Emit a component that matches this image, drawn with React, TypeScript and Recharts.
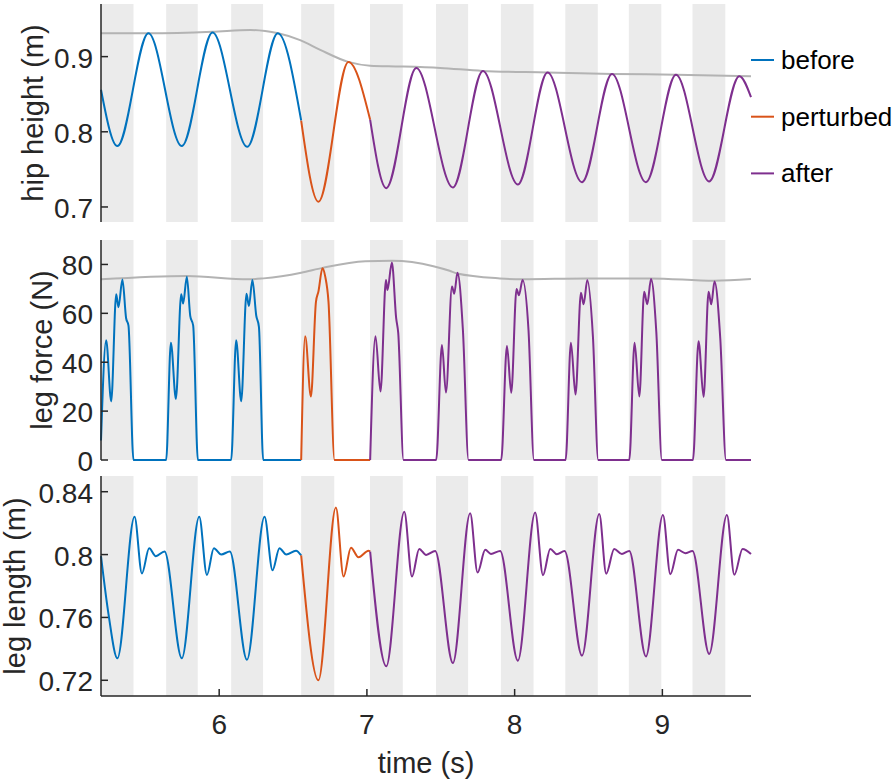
import React from 'react';
import { LineChart, Line, XAxis, YAxis, ReferenceArea } from 'recharts';

const FONT = '"Liberation Sans", Arial, Helvetica, sans-serif';
const INK = '#262626';
const C_BEFORE = '#0072BD';
const C_PERT = '#D95319';
const C_AFTER = '#7E2F8E';
const C_ENV = '#b3b3b3';
const C_BAND = '#ebebeb';

// stance phases (grey bands), seconds
const stanceOn = [5.2, 5.641, 6.081, 6.555, 7.021, 7.468, 7.907, 8.343, 8.773, 9.204];
const stanceOff = [5.42, 5.855, 6.297, 6.779, 7.243, 7.685, 8.128, 8.563, 8.993, 9.426];

const timeTicks = [6, 7, 8, 9];
const hipTicks = [0.7, 0.8, 0.9];
const forceTicks = [0, 20, 40, 60, 80];
const lenTicks = [0.72, 0.76, 0.8, 0.84];

// hip height (m)
const hipBefore: [number, number][] = [
  [5.2, 0.856], [5.311, 0.781], [5.521, 0.931], [5.747, 0.781], [5.955, 0.932],
  [6.19, 0.78], [6.397, 0.931], [6.555, 0.815],
];
const hipPerturbed: [number, number][] = [
  [6.555, 0.815], [6.672, 0.707], [6.875, 0.893], [7.022, 0.816],
];
const hipAfter: [number, number][] = [
  [7.022, 0.816], [7.131, 0.725], [7.334, 0.885], [7.582, 0.726], [7.785, 0.881],
  [8.022, 0.73], [8.223, 0.879], [8.456, 0.733], [8.659, 0.877], [8.889, 0.733],
  [9.092, 0.876], [9.317, 0.734], [9.521, 0.874], [9.6, 0.846],
];
const hipEnvelope: [number, number][] = [
  [5.2, 0.931], [5.519, 0.931], [5.953, 0.933], [6.21, 0.9355], [6.311, 0.934],
  [6.399, 0.931], [6.548, 0.922], [6.684, 0.909], [6.873, 0.893], [7.022, 0.888],
  [7.225, 0.887], [7.496, 0.885], [7.781, 0.881], [8.221, 0.879], [8.662, 0.877],
  [9.095, 0.876], [9.6, 0.874],
];

// leg force (N)
const forceBefore: [number, number][] = [
  [5.2, 8], [5.235, 49], [5.269, 24], [5.303, 67.8], [5.318, 62.5], [5.345, 73.8], [5.37, 58], [5.386, 55], [5.42, 0],
  [5.641, 0], [5.673, 48], [5.707, 25], [5.743, 67.8], [5.756, 64], [5.781, 75], [5.804, 59], [5.824, 55], [5.856, 0],
  [6.081, 0], [6.115, 49], [6.149, 24], [6.185, 68], [6.201, 63], [6.225, 73.6], [6.251, 59], [6.269, 54.5], [6.298, 0],
  [6.555, 0],
];
const forcePerturbed: [number, number][] = [
  [6.555, 0], [6.582, 50.6], [6.621, 26], [6.655, 64.7], [6.672, 69], [6.699, 78.4],
  [6.718, 75], [6.74, 64.7], [6.781, 0], [7.022, 0],
];
const forceAfter: [number, number][] = [
  [7.022, 0], [7.058, 50.6], [7.092, 28], [7.129, 73.6], [7.139, 69.5], [7.169, 80.8], [7.198, 58], [7.212, 52], [7.248, 0],
  [7.469, 0], [7.508, 47], [7.535, 27.6], [7.576, 71], [7.591, 68], [7.613, 76.6], [7.65, 53], [7.688, 0],
  [7.909, 0], [7.948, 46.6], [7.977, 27.5], [8.013, 70], [8.029, 67.4], [8.054, 73.6], [8.094, 53], [8.131, 0],
  [8.345, 0], [8.381, 48], [8.412, 26.8], [8.449, 68.4], [8.467, 63.7], [8.492, 73.6], [8.53, 50.4], [8.566, 0],
  [8.776, 0], [8.812, 48], [8.844, 26], [8.877, 68.8], [8.898, 63.7], [8.923, 74], [8.959, 52.4], [8.997, 0],
  [9.207, 0], [9.245, 48.6], [9.279, 25.8], [9.313, 68.8], [9.331, 63.7], [9.353, 73], [9.392, 49.7], [9.431, 0],
  [9.6, 0],
];
const forceEnvelope: [number, number][] = [
  [5.2, 73.9], [5.78, 75.3], [6.2, 73.9], [6.3, 74.3], [6.555, 76.6], [6.7, 78.6],
  [6.99, 81.3], [7.17, 81.5], [7.45, 79.3], [7.56, 77.4], [7.61, 76.3], [7.9, 74.3],
  [8.05, 73.9], [8.49, 74.3], [8.92, 74.3], [9.35, 73.3], [9.6, 74],
];

// leg length (m)
const lenBefore: [number, number][] = [
  [5.2, 0.799], [5.251, 0.762], [5.311, 0.734], [5.427, 0.824], [5.477, 0.788], [5.526, 0.804], [5.571, 0.799], [5.63, 0.802],
  [5.747, 0.734], [5.865, 0.824], [5.917, 0.787], [5.964, 0.804], [6.014, 0.8], [6.072, 0.802],
  [6.188, 0.733], [6.307, 0.824], [6.361, 0.79], [6.408, 0.804], [6.454, 0.8], [6.52, 0.8025], [6.555, 0.7995],
];
const lenPerturbed: [number, number][] = [
  [6.555, 0.7995], [6.672, 0.72], [6.79, 0.83], [6.842, 0.786], [6.892, 0.8044],
  [6.943, 0.7983], [7.011, 0.8025], [7.022, 0.8019],
];
const lenAfter: [number, number][] = [
  [7.022, 0.8019], [7.131, 0.7289], [7.253, 0.8273], [7.305, 0.786], [7.354, 0.8036], [7.401, 0.7998], [7.462, 0.8023],
  [7.582, 0.731], [7.699, 0.8263], [7.749, 0.7886], [7.801, 0.803], [7.84, 0.8004], [7.902, 0.8023],
  [8.022, 0.7325], [8.139, 0.8267], [8.192, 0.7869], [8.241, 0.8036], [8.286, 0.8002], [8.338, 0.8023],
  [8.456, 0.7357], [8.573, 0.8258], [8.62, 0.7878], [8.674, 0.8036], [8.726, 0.8004], [8.776, 0.8023],
  [8.889, 0.7352], [9.004, 0.8252], [9.054, 0.7875], [9.106, 0.803], [9.155, 0.8009], [9.204, 0.8023],
  [9.317, 0.7368], [9.437, 0.8252], [9.487, 0.7871], [9.543, 0.8036], [9.6, 0.8004],
];

const legendItems = [
  { name: 'before', color: C_BEFORE },
  { name: 'perturbed', color: C_PERT },
  { name: 'after', color: C_AFTER },
];

const rows = (pts: [number, number][]) => pts.map(([t, v]) => ({ t, v }));

const TICK_FS = 28;
const TITLE_FS = 29;

const yTick = (props: any) => {
  const { x, y, payload } = props;
  return (
    <g>
      <line x1={x} x2={x + 7} y1={y} y2={y} stroke={INK} strokeWidth={1.5} />
      <text x={x - 8} y={y} dy={11} textAnchor="end" fontSize={TICK_FS} fontFamily={FONT} fill={INK}>
        {String(payload.value)}
      </text>
    </g>
  );
};

const xTick = (props: any) => {
  const { x, y, payload } = props;
  return (
    <g>
      <line x1={x} x2={x} y1={y} y2={y - 7} stroke={INK} strokeWidth={1.5} />
      <text x={x} y={y + 38} textAnchor="middle" fontSize={TICK_FS} fontFamily={FONT} fill={INK}>
        {String(payload.value)}
      </text>
    </g>
  );
};

const yTitle = (text: string, cx: number) => (props: any) => {
  const vb = props.viewBox || {};
  const cy = (vb.y ?? 0) + (vb.height ?? 0) / 2;
  return (
    <text x={cx} y={cy} transform={`rotate(-90 ${cx} ${cy})`} textAnchor="middle" dominantBaseline="central"
      fontSize={TITLE_FS} fontFamily={FONT} fill={INK}>
      {text}
    </text>
  );
};

const xTitle = (props: any) => {
  const vb = props.viewBox || {};
  const cx = (vb.x ?? 0) + (vb.width ?? 0) / 2;
  return (
    <text x={cx} y={(vb.y ?? 0) + 77} textAnchor="middle" fontSize={TITLE_FS} fontFamily={FONT} fill={INK}>
      time (s)
    </text>
  );
};

type Series = { pts: [number, number][]; color: string; width?: number };

// one stacked axes; plot area always spans x 101..751 and starts 4px below `top`
function Panel(props: {
  top: number; plotH: number; domain: [number, number]; ticks: number[];
  title: string; titleX: number; series: Series[]; showX?: boolean;
}) {
  const { top, plotH, domain, ticks, title, titleX, series, showX } = props;
  const bottom = showX ? 0 : 22;
  const height = 4 + plotH + bottom + (showX ? 86 : 0);
  return (
    <div style={{ position: 'absolute', left: 0, top }}>
      <LineChart width={893} height={height} margin={{ top: 4, right: 142, bottom, left: 0 }}>
        <XAxis
          type="number" dataKey="t" domain={[5.2, 9.6]} ticks={timeTicks}
          hide={!showX} height={86} tickSize={0} tickMargin={0} tickLine={false}
          axisLine={{ stroke: INK, strokeWidth: 1.5 }} tick={xTick} label={showX ? xTitle : undefined}
        />
        <YAxis
          type="number" domain={domain} ticks={ticks} width={101}
          tickSize={0} tickMargin={0} tickLine={false}
          axisLine={{ stroke: INK, strokeWidth: 1.5 }} tick={yTick} label={yTitle(title, titleX)}
        />
        {stanceOn.map((s, i) => (
          <ReferenceArea key={i} x1={s} x2={stanceOff[i]} fill={C_BAND} fillOpacity={1} stroke="none" />
        ))}
        {series.map((s, i) => (
          <Line
            key={i} data={rows(s.pts)} dataKey="v" type="monotone" stroke={s.color}
            strokeWidth={s.width ?? 2} dot={false} activeDot={false} isAnimationActive={false}
          />
        ))}
      </LineChart>
    </div>
  );
}

export default function App() {
  return (
    <div style={{ position: 'absolute', left: 0, top: 0, width: 893, height: 782, background: '#fff', overflow: 'hidden' }}>
      <Panel
        top={0} plotH={218} domain={[0.68, 0.97]} ticks={hipTicks} title="hip height (m)" titleX={32.5}
        series={[
          { pts: hipEnvelope, color: C_ENV },
          { pts: hipBefore, color: C_BEFORE },
          { pts: hipPerturbed, color: C_PERT },
          { pts: hipAfter, color: C_AFTER },
        ]}
      />
      <Panel
        top={236} plotH={220} domain={[0, 90]} ticks={forceTicks} title="leg force (N)" titleX={42}
        series={[
          { pts: forceEnvelope, color: C_ENV },
          { pts: forceBefore, color: C_BEFORE },
          { pts: forcePerturbed, color: C_PERT },
          { pts: forceAfter, color: C_AFTER },
        ]}
      />
      <Panel
        top={472} plotH={220} domain={[0.71, 0.85]} ticks={lenTicks} title="leg length (m)" titleX={15}
        showX
        series={[
          { pts: lenBefore, color: C_BEFORE },
          { pts: lenPerturbed, color: C_PERT },
          { pts: lenAfter, color: C_AFTER },
        ]}
      />
      <svg width={893} height={220} style={{ position: 'absolute', left: 0, top: 0 }}>
        {legendItems.map((it, i) => {
          const y = 60 + i * 56.7;
          return (
            <g key={it.name}>
              <line x1={751} x2={774} y1={y} y2={y} stroke={it.color} strokeWidth={2} />
              <text x={781} y={y} dy={9} fontSize={26} fontFamily={FONT} fill="#000">{it.name}</text>
            </g>
          );
        })}
      </svg>
    </div>
  );
}
